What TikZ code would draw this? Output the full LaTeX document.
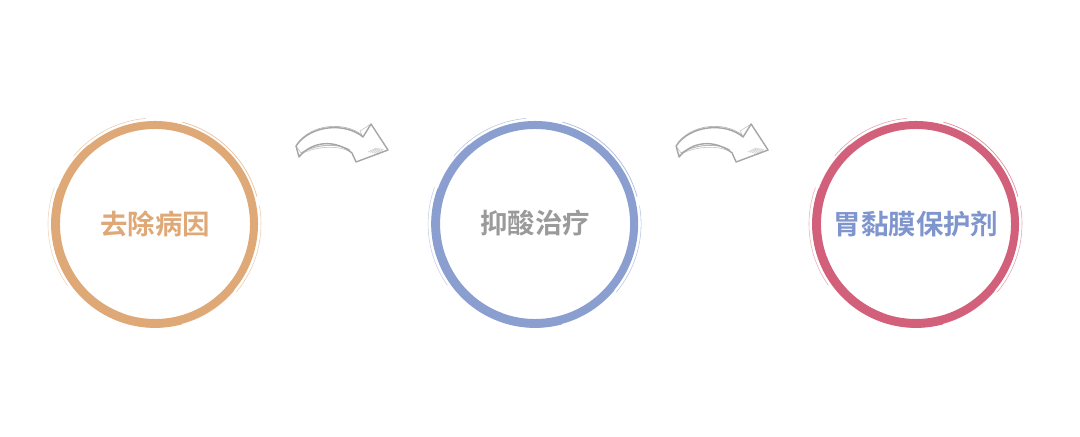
\documentclass[tikz,border=0pt]{standalone}
\usepackage{fontspec}
\newfontfamily\cjk{Noto Sans CJK SC Bold}
\usetikzlibrary{positioning}

\definecolor{ringorange}{HTML}{DFA877}
\definecolor{ringblue}{HTML}{8A9ED0}
\definecolor{ringred}{HTML}{D2607A}
\definecolor{txtgray}{HTML}{9A9A9A}
\definecolor{txtblue}{HTML}{7F95CD}
\definecolor{arrgray}{HTML}{A6A6A6}

\tikzset{
  ring/.style={circle, draw=#1, line width=0.2cm, minimum size=4.95cm,
    inner sep=0pt, font=\cjk\fontsize{19.5}{21}\selectfont},
  sketcharrow/.pic={
    \draw[arrgray, fill=white, line width=1pt, line join=round]
      (0,0) .. controls (14,21) and (49,24) .. (67,9)
      -- (75,22) -- (92,-4) -- (60,-16) -- (56,-7)
      .. controls (39,7) and (16,5) .. (3,-11) -- cycle;
    \draw[arrgray, line width=0.5pt, opacity=0.8]
      (1,2) .. controls (15,22) and (48,25) .. (66,11);
    \draw[arrgray, line width=0.7pt, opacity=0.8]
      (5,-7) .. controls (18,1) and (40,4) .. (54,-4);
    \draw[arrgray, line width=0.4pt, opacity=0.7]
      (3,-9) .. controls (17,-1) and (40,2) .. (55,-6);
    \draw[arrgray, line width=0.4pt, opacity=0.7] (0,0) -- (5,-7);
    \draw[arrgray, line width=0.4pt, opacity=0.7] (67,9) -- (64,15) -- (75,22);
    \foreach \k in {0,...,5}
      \draw[arrgray, line width=0.4pt, opacity=0.6]
        (72+2*\k,-6-0.5*\k) -- (80+1.5*\k,-2-0.2*\k);
  }
}

% brush texture round a ring node
\newcommand\brushring[2]{%
  \draw[#2, line width=0.05cm, opacity=0.8] (#1.center) ++(130:102.5)
    arc[start angle=130, end angle=320, radius=102.5];
  \draw[#2, line width=0.07cm] (#1.center) ++(160:102.5)
    arc[start angle=160, end angle=285, radius=102.5];
  \draw[#2, line width=0.05cm, opacity=0.8] (#1.center) ++(200:96)
    arc[start angle=200, end angle=250, radius=96];
  \draw[#2, line width=0.5pt, opacity=0.7] (#1.center) ++(15:105.5)
    arc[start angle=15, end angle=75, radius=105.5];
  \draw[#2, line width=0.4pt, opacity=0.6] (#1.center) ++(95:106)
    arc[start angle=95, end angle=140, radius=106];
  \draw[#2, line width=0.4pt, opacity=0.6] (#1.center) ++(-40:106)
    arc[start angle=-40, end angle=10, radius=106];
  \draw[#2, line width=0.4pt, opacity=0.5] (#1.center) ++(30:95.5)
    arc[start angle=30, end angle=70, radius=95.5];
  \draw[#2, line width=0.4pt, opacity=0.5] (#1.center) ++(160:107)
    arc[start angle=160, end angle=215, radius=107];
}

\begin{document}
\begin{tikzpicture}[x=0.025cm, y=0.025cm]
  \useasboundingbox (0,0) rectangle (1080,436);

  \node[ring=ringorange, text=ringorange] (c1) at (155,212) {去除病因};
  \node[ring=ringblue, text=txtgray, right=9.5cm of c1.center, anchor=center]
    (c2) {\raisebox{0.12cm}{抑酸治疗}};
  \node[ring=ringred, text=txtblue, right=9.52cm of c2.center, anchor=center]
    (c3) {胃黏膜保护剂};

  \brushring{c1}{ringorange}
  \brushring{c2}{ringblue}
  \brushring{c3}{ringred}

  \coordinate (arr1) at (296,290);
  \coordinate[right=9.5cm of arr1] (arr2);
  \pic at (arr1) {sketcharrow};
  \pic at (arr2) {sketcharrow};
\end{tikzpicture}
\end{document}
